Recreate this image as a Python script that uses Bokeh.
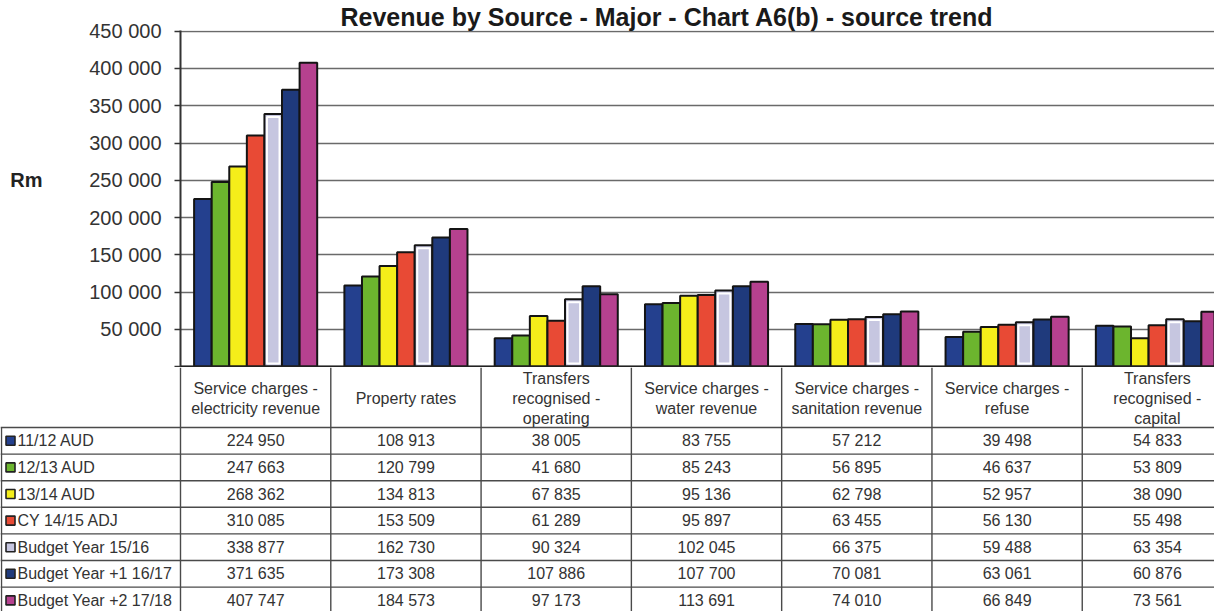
from bokeh.plotting import figure
from bokeh.models import Range1d, FixedTicker, Span, LinearAxis
from bokeh.layouts import column, row
from bokeh.embed import file_html
from bokeh.resources import INLINE
from bokeh.core.properties import value

# ---------------- data ----------------
categories = [
    "Service charges -\nelectricity revenue",
    "Property rates",
    "Transfers\nrecognised -\noperating",
    "Service charges -\nwater revenue",
    "Service charges -\nsanitation revenue",
    "Service charges -\nrefuse",
    "Transfers\nrecognised -\ncapital",
]
series_names = [
    "11/12 AUD",
    "12/13 AUD",
    "13/14 AUD",
    "CY  14/15 ADJ",
    "Budget Year 15/16",
    "Budget Year +1 16/17",
    "Budget Year +2 17/18",
]
aud_11_12 = [224950, 108913, 38005, 83755, 57212, 39498, 54833]
aud_12_13 = [247663, 120799, 41680, 85243, 56895, 46637, 53809]
aud_13_14 = [268362, 134813, 67835, 95136, 62798, 52957, 38090]
cy_14_15 = [310085, 153509, 61289, 95897, 63455, 56130, 55498]
budget_15_16 = [338877, 162730, 90324, 102045, 66375, 59488, 63354]
budget_16_17 = [371635, 173308, 107886, 107700, 70081, 63061, 60876]
budget_17_18 = [407747, 184573, 97173, 113691, 74010, 66849, 73561]
series_values = [aud_11_12, aud_12_13, aud_13_14, cy_14_15,
                 budget_15_16, budget_16_17, budget_17_18]
colors = ["#24408E", "#6CB52E", "#F5EE1A", "#E84A35", "#C6C6E0", "#1F3A7C", "#B6418F"]

tick_values = [0, 50000, 100000, 150000, 200000, 250000, 300000, 350000, 400000, 450000]
tick_labels = ["", "50 000", "100 000", "150 000", "200 000", "250 000",
               "300 000", "350 000", "400 000", "450 000"]
unit_label = "Rm"
unit_label_at = 250000

# ---------------- layout constants ----------------
FONT = "Liberation Sans"
W = 1214
H_CHART = 367
H_TABLE = 244
LEFT = 180
XEND = 6.88
UNIT_PX = (W - LEFT) / XEND
BW = 0.117
Y0, Y1 = -1300, 451000
Y_PER_PX = (Y1 - Y0) / 338.0

# ---------------- chart ----------------
p = figure(width=W, height=H_CHART, x_range=Range1d(0, XEND), y_range=Range1d(Y0, Y1),
           output_backend="svg", toolbar_location=None, x_axis_location=None,
           min_border_left=LEFT, min_border_right=0, min_border_top=0, min_border_bottom=0)
p.outline_line_color = None
p.background_fill_color = "white"

p.title.text = "Revenue by Source - Major - Chart A6(b) - source trend"
p.title.text_font = FONT
p.title.text_font_size = "25px"
p.title.text_font_style = "bold"
p.title.text_color = "#1a1a1a"
p.title.align = "left"
p.title.offset = 160
p.title.standoff = 0

p.xgrid.visible = False
p.ygrid.ticker = FixedTicker(ticks=tick_values)
p.ygrid.grid_line_color = "#6a6a6a"
p.ygrid.grid_line_width = 1.6

ax = p.yaxis[0]
ax.ticker = FixedTicker(ticks=tick_values)
ax.major_label_overrides = {t: l for t, l in zip(tick_values, tick_labels)}
ax.major_label_text_font = FONT
ax.major_label_text_font_size = "20px"
ax.major_label_text_color = "#333333"
ax.axis_line_color = "#333333"
ax.axis_line_width = 2
ax.major_tick_line_color = "#333333"
ax.major_tick_line_width = 1.5
ax.major_tick_out = 6
ax.major_tick_in = 0
ax.minor_tick_out = 0
ax.minor_tick_in = 0
ax.major_label_standoff = 13

# unit label "Rm" as an outer axis with a single tick
rm_axis = LinearAxis(ticker=FixedTicker(ticks=[unit_label_at]),
                     major_label_overrides={unit_label_at: unit_label})
rm_axis.axis_line_color = None
rm_axis.major_tick_line_color = None
rm_axis.minor_tick_line_color = None
rm_axis.major_tick_out = 0
rm_axis.major_tick_in = 0
rm_axis.major_label_standoff = 44
rm_axis.major_label_text_font = FONT
rm_axis.major_label_text_font_size = "20px"
rm_axis.major_label_text_font_style = "bold"
rm_axis.major_label_text_color = "#222222"
p.add_layout(rm_axis, "left")

for i, (vals, col) in enumerate(zip(series_values, colors)):
    xs = [c + 0.5 + (i - 3) * BW for c in range(len(categories))]
    p.vbar(x=xs, top=vals, bottom=0, width=BW, fill_color=col,
           line_color="#141414", line_width=2)
    if i == 4:
        p.vbar(x=xs, top=[v - 3 * Y_PER_PX for v in vals], bottom=3 * Y_PER_PX,
               width=BW - 5.0 / UNIT_PX, fill_alpha=0, line_color="white", line_width=2)

p.add_layout(Span(location=0, dimension="width", line_color="#222222", line_width=2))

# ---------------- data table ----------------
TL = LEFT / UNIT_PX
HEADER_H = 60
ROW_H = 26.6

t = figure(width=W, height=H_TABLE, x_range=Range1d(-TL, XEND), y_range=Range1d(H_TABLE, 0),
           output_backend="svg", toolbar_location=None, x_axis_location=None,
           y_axis_location=None, min_border=0)
t.outline_line_color = None
t.xgrid.visible = False
t.ygrid.visible = False

LINE = "#4a4a4a"
hy = [HEADER_H + r * ROW_H for r in range(len(series_names))]
t.segment(x0=[-TL] * len(hy), x1=[XEND] * len(hy), y0=hy, y1=hy,
          line_color=LINE, line_width=1.4)
vx = list(range(len(categories)))
t.segment(x0=vx, x1=vx, y0=[0] * len(vx), y1=[H_TABLE] * len(vx),
          line_color=LINE, line_width=1.4)
t.segment(x0=[-TL + 1.0 / UNIT_PX], x1=[-TL + 1.0 / UNIT_PX], y0=[HEADER_H], y1=[H_TABLE],
          line_color=LINE, line_width=1.4)

t.text(x=[c + 0.5 for c in range(len(categories))], y=[HEADER_H / 2 + 1] * len(categories),
       text=categories, text_align="center", text_baseline="middle",
       text_font=value(FONT), text_font_size="16px", text_color="#333333",
       text_line_height=1.2)

row_y = [HEADER_H + (r + 0.5) * ROW_H for r in range(len(series_names))]
t.scatter(x=[-TL + 10.0 / UNIT_PX] * len(series_names), y=row_y, marker="square", size=9,
          fill_color=colors, line_color="#222222", line_width=1.6)
t.text(x=[-TL + 17.0 / UNIT_PX] * len(series_names), y=row_y, text=series_names,
       text_align="left", text_baseline="middle", text_font=value(FONT),
       text_font_size="16px", text_color="#333333")

vx_, vy_, vt_ = [], [], []
for r, vals in enumerate(series_values):
    for c, v in enumerate(vals):
        vx_.append(c + 0.5)
        vy_.append(row_y[r])
        vt_.append(f"{v:,}".replace(",", " "))
t.text(x=vx_, y=vy_, text=vt_, text_align="center", text_baseline="middle",
       text_font=value(FONT), text_font_size="16px", text_color="#333333")

layout = column(p, row(t))
open("out.html", "w").write(file_html(layout, INLINE))
